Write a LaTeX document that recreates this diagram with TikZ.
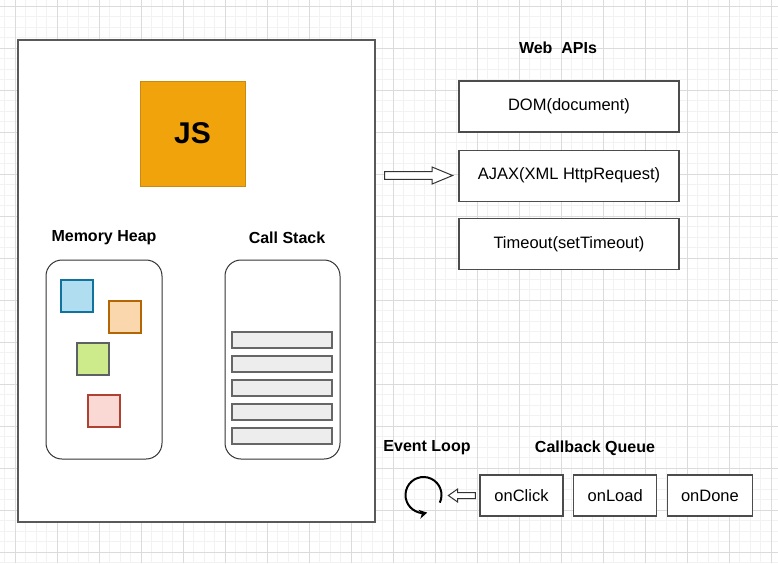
\documentclass[tikz,border=0pt]{standalone}
\usepackage{fontspec}
\setmainfont{Liberation Sans}
\usetikzlibrary{positioning,shapes.arrows,arrows.meta}

\definecolor{jsfill}{HTML}{F0A30A}
\definecolor{jsline}{HTML}{C98A12}
\definecolor{blueobj}{HTML}{B1DDF0}
\definecolor{bluerim}{HTML}{10739E}
\definecolor{orangeobj}{HTML}{FAD7AC}
\definecolor{orangerim}{HTML}{B46504}
\definecolor{greenobj}{HTML}{CDEB8B}
\definecolor{greenrim}{HTML}{36393D}
\definecolor{pinkobj}{HTML}{FAD9D5}
\definecolor{pinkrim}{HTML}{AE4132}

\begin{document}
\begin{tikzpicture}[x=1pt, y=-1pt,
                    minorline/.style={draw=black!5, line width=0.8pt},
                    majorline/.style={draw=black!14, line width=0.8pt},
                    heading/.style={font=\fontsize{16}{19}\selectfont\bfseries},
                    plainbox/.style={draw=black!70, line width=1.2pt, fill=white, inner sep=0pt,
                                     font=\fontsize{16.5}{19}\selectfont},
                    apibox/.style={plainbox, minimum width=220pt, minimum height=51pt},
                    queuebox/.style={plainbox, minimum width=83pt, minimum height=41pt},
                    holder/.style={draw=black!80, line width=1pt, rounded corners=16pt, fill=white,
                                   minimum width=116pt, minimum height=199pt, inner sep=0pt},
                    heapobj/.style={line width=1.3pt, minimum size=32pt, inner sep=0pt},
                    hollow/.style={single arrow, draw=black!80, line width=1pt, fill=white, inner sep=0pt}]
  \useasboundingbox (0,0) rectangle (778,563);
  \fill[white] (0,0) rectangle (778,563);
  \foreach \i in {0,...,74} \draw[minorline] ({4.5+10.5*\i},0) -- ({4.5+10.5*\i},563);
  \foreach \j in {0,...,53} \draw[minorline] (0,{6+10.5*\j}) -- (778,{6+10.5*\j});
  \foreach \i in {0,...,18} \draw[majorline] ({15+42*\i},0) -- ({15+42*\i},563);
  \foreach \j in {0,...,13} \draw[majorline] (0,{6+42*\j}) -- (778,{6+42*\j});

  \node[draw=black!65, line width=1.5pt, fill=white, minimum width=357pt, minimum height=482pt,
        inner sep=0pt] (engine) at (196.5,281) {};
  \node[draw=jsline, line width=1pt, fill=jsfill, minimum size=105pt, inner sep=0pt,
        font=\fontsize{30}{34}\selectfont\bfseries] (js) at (192.5,133.5) {JS};

  \node[heading] (heaplabel) at (104,238) {Memory Heap};
  \node[heading] (stacklabel) at (287,238) {Call Stack};
  \node[holder] (heap) at (104,359.5) {};
  \node[holder, minimum width=115pt] (stack) at (282.5,359.5) {};

  \node[heapobj, draw=bluerim, fill=blueobj] (obja) at (77,296) {};
  \node[heapobj, draw=orangerim, fill=orangeobj] (objb) at (125,317) {};
  \node[heapobj, draw=greenrim!80, fill=greenobj] (objc) at (93,359) {};
  \node[heapobj, draw=pinkrim, fill=pinkobj] (objd) at (104,411) {};

  \foreach \y [count=\k] in {340,364,388,412,436}
    \node[draw=black!60, line width=1.2pt, fill=black!7, minimum width=100pt, minimum height=16pt,
          inner sep=0pt] (frame\k) at (282,\y) {};

  \node[hollow, minimum height=68pt, minimum width=16pt, single arrow head extend=4.7pt,
        single arrow tip angle=45] (dispatch) at (414,175.5) {\vphantom{\rule{0pt}{6.6pt}}};

  \node[heading] (apilabel) at (558,48) {Web~~APIs};
  \node[apibox] (dom) at (569,106.5) {DOM(document)};
  \node[apibox, below=17pt of dom] (ajax) {AJAX(XML HttpRequest)};
  \node[apibox, below=16pt of ajax] (timer) {Timeout(setTimeout)};

  \node[heading] (looplabel) at (427,448) {Event Loop};
  \node[heading] (queuelabel) at (595,448) {Callback Queue};
  \node[queuebox] (click) at (521.5,495.5) {onClick};
  \node[queuebox, right=9.5pt of click] (load) {onLoad};
  \node[queuebox, right=9.5pt of load, minimum width=85pt] (done) {onDone};

  \node[hollow, minimum height=27pt, minimum width=12pt, single arrow head extend=3.5pt,
        single arrow tip angle=70, shape border rotate=180] (pull) at (464,495.5)
        {\vphantom{\rule{0pt}{5pt}}};

  \coordinate (loop) at (423.5,495);
  \draw[line width=2pt, -{Stealth[length=8pt, width=9pt]}] (loop) ++(25:18)
    arc[start angle=25, end angle=-282, radius=18];
\end{tikzpicture}
\end{document}
